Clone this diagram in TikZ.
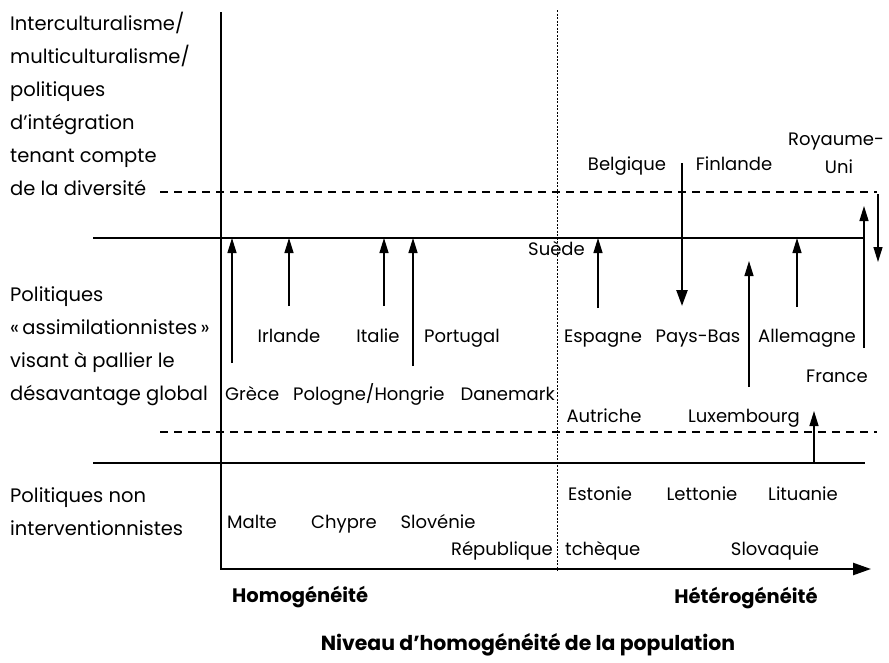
\documentclass[tikz,border=0pt]{standalone}
\usepackage{fontspec}
\setmainfont{Poppins}
\usetikzlibrary{arrows.meta}
\begin{document}
\begin{tikzpicture}[x=1pt,y=-1pt,
  lbl/.style={inner sep=0pt,font=\fontsize{18}{33}\selectfont},
  llbl/.style={inner sep=0pt,align=left,anchor=base west,font=\fontsize{19.5}{33}\selectfont},
  blbl/.style={inner sep=0pt,font=\fontsize{19.5}{33}\selectfont\bfseries},
  axis/.style={line width=2.4pt},
  band/.style={line width=1.3pt},
  bandd/.style={line width=1.3pt,dash pattern=on 8pt off 6pt},
  midline/.style={line width=0.7pt,dash pattern=on 2pt off 1.5pt},
  up/.style={line width=1.3pt,-{Triangle[width=9pt,length=15pt]}},
  thickup/.style={line width=2.4pt,-{Triangle[width=11pt,length=16pt]}}
]
\useasboundingbox (0,0) rectangle (889,662);
% axes
\coordinate (ytop) at (221,12);
\coordinate (orig) at (221,569);
\coordinate (xend) at (871,569);
\draw[axis,-{Triangle[width=12pt,length=18pt]}] (ytop) -- (orig) -- (xend);
\coordinate (mtop) at (557,10);
\coordinate (mbot) at (557,571);
\draw[midline] (mtop) -- (mbot);
% bands
\coordinate (d1a) at (160,192); \coordinate (d1b) at (877,192);
\coordinate (s1a) at (93,238);  \coordinate (s1b) at (865,238);
\coordinate (d2a) at (160,432); \coordinate (d2b) at (877,432);
\coordinate (s2a) at (93,463);  \coordinate (s2b) at (865,463);
\draw[bandd] (d1a) -- (d1b);
\draw[band] (s1a) -- (s1b);
\draw[bandd] (d2a) -- (d2b);
\draw[band] (s2a) -- (s2b);
% left labels (anchored at the baseline of their last line)
\node[llbl] (top) at (10,195) {Interculturalisme/\\multiculturalisme/\\politiques\\d’intégration\\tenant compte\\de la diversité};
\node[llbl] (mid) at (10,400) {Politiques\\«\,assimilationnistes\,»\\visant à pallier le\\désavantage global};
\node[llbl] (low) at (10,535) {Politiques non\\interventionnistes};
% country labels
\node[lbl,anchor=base west] (gre) at (225,400) {Grèce};
\node[lbl,anchor=base west] (pol) at (293,400) {Pologne/Hongrie};
\node[lbl,anchor=base east] (dan) at (555,400) {Danemark};
\node[lbl,anchor=base] (irl) at (289,342) {Irlande};
\node[lbl,anchor=base] (ita) at (378,342) {Italie};
\node[lbl,anchor=base west] (por) at (424,342) {Portugal};
\node[lbl,anchor=base east] (sue) at (585,255) {Suède};
\node[lbl,anchor=base] (bel) at (627,170) {Belgique};
\node[lbl,anchor=base] (fin) at (734,170) {Finlande};
\node[lbl,anchor=base] (roy) at (836,145) {Royaume-};
\node[lbl,anchor=base] (uni) at (839,173) {Uni};
\node[lbl,anchor=base] (esp) at (603,342) {Espagne};
\node[lbl,anchor=base] (pb) at (698,342) {Pays-Bas};
\node[lbl,anchor=base] (all) at (807,342) {Allemagne};
\node[lbl,anchor=base] (fra) at (837,382) {France};
\node[lbl,anchor=base] (aut) at (604,422) {Autriche};
\node[lbl,anchor=base] (lux) at (744,422) {Luxembourg};
\node[lbl,anchor=base] (est) at (600,500) {Estonie};
\node[lbl,anchor=base] (let) at (702,500) {Lettonie};
\node[lbl,anchor=base] (lit) at (803,500) {Lituanie};
\node[lbl,anchor=base] (mal) at (252,528) {Malte};
\node[lbl,anchor=base] (chy) at (344,528) {Chypre};
\node[lbl,anchor=base] (slo) at (438,528) {Slovénie};
\node[lbl,anchor=base east] (rep) at (553,555) {République};
\node[lbl,anchor=base west] (tch) at (565,555) {tchèque};
\node[lbl,anchor=base] (slk) at (775,555) {Slovaquie};
\node[blbl,anchor=base west] (hom) at (232,602) {Homogénéité};
\node[blbl,anchor=base] (het) at (746,603) {Hétérogénéité};
\node[blbl,anchor=base,font=\fontsize{20.4}{33}\selectfont\bfseries] (niv) at (528,650) {Niveau d’homogénéité de la population};
% arrows
\coordinate (a1) at (232,363); \coordinate (b1) at (232,238);
\coordinate (a2) at (289,306); \coordinate (b2) at (289,238);
\coordinate (a3) at (384,306); \coordinate (b3) at (384,238);
\coordinate (a4) at (413,366); \coordinate (b4) at (413,238);
\coordinate (a5) at (598,308); \coordinate (b5) at (598,238);
\coordinate (a6) at (682,163); \coordinate (b6) at (682,306);
\coordinate (a7) at (749,387); \coordinate (b7) at (749,261);
\coordinate (a8) at (797,307); \coordinate (b8) at (797,238);
\coordinate (a9) at (864,348); \coordinate (b9) at (864,206);
\coordinate (a10) at (878,194); \coordinate (b10) at (878,262);
\coordinate (a11) at (814,463); \coordinate (b11) at (814,411);
\draw[up] (a1) -- (b1);
\draw[up] (a2) -- (b2);
\draw[up] (a3) -- (b3);
\draw[up] (a4) -- (b4);
\draw[up] (a5) -- (b5);
\draw[thickup] (a6) -- (b6);
\draw[up] (a7) -- (b7);
\draw[up] (a8) -- (b8);
\draw[up] (a9) -- (b9);
\draw[up] (a10) -- (b10);
\draw[up] (a11) -- (b11);
\end{tikzpicture}
\end{document}
